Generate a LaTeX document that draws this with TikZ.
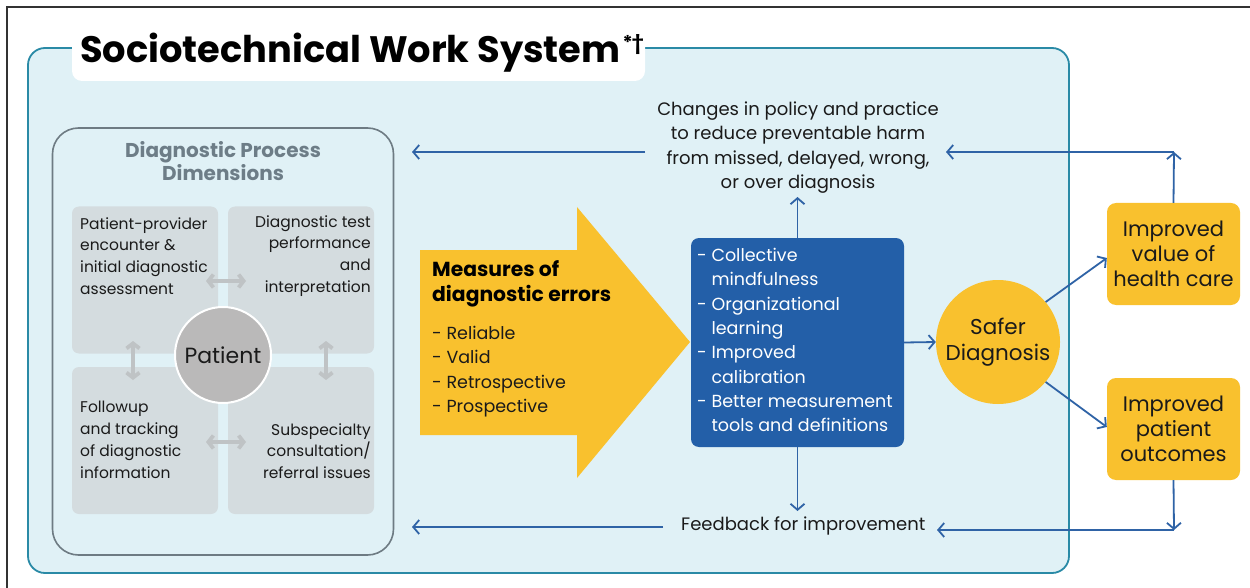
\documentclass[tikz,border=0pt]{standalone}
\usepackage{fontspec}
\setmainfont{Poppins}
\usetikzlibrary{arrows.meta}
\definecolor{mainfill}{HTML}{E0F1F6}
\definecolor{mainline}{HTML}{2A8AA6}
\definecolor{grayline}{HTML}{6E7B83}
\definecolor{panelfill}{HTML}{D4DCDF}
\definecolor{patfill}{HTML}{BAB9B9}
\definecolor{dblarrow}{HTML}{BFC3C5}
\definecolor{yel}{HTML}{F9C12E}
\definecolor{bluebox}{HTML}{235FA8}
\definecolor{bluearrow}{HTML}{2F63A6}
\definecolor{titlegray}{HTML}{6D7D87}
\definecolor{ink}{HTML}{1A1A1A}
\tikzset{
  txt/.style={inner sep=0pt, text=ink, font=\fontsize{17.5}{24.3}\selectfont},
  bigtxt/.style={inner sep=0pt, text=ink, font=\fontsize{18}{24.3}\selectfont},
  paneltxt/.style={inner sep=0pt, text=ink, font=\fontsize{15.5}{21.8}\selectfont},
  panel/.style={fill=panelfill, rounded corners=7pt, minimum width=146pt, minimum height=147pt, inner sep=0pt},
  barrow/.style={draw=bluearrow, line width=1.8pt, -{Straight Barb[length=6pt,width=14pt]}},
  garrow/.style={draw=dblarrow, line width=3.8pt, {Straight Barb[length=5pt,width=13pt]}-{Straight Barb[length=5pt,width=13pt]}},
  yelbox/.style={fill=yel, rounded corners=9pt, minimum width=133pt, minimum height=102pt, inner sep=0pt, align=center, text=ink, font=\fontsize{21}{25}\selectfont},
}
\begin{document}
\begin{tikzpicture}[x=1pt,y=-1pt]
\useasboundingbox (0,0) rectangle (1250,588);
\fill[white] (0,0) rectangle (1250,588);
% outer frame
\draw[line width=1.6pt, black!80] (7,588) -- (7,7) -- (1250,7);
% main box
\node[draw=mainline, fill=mainfill, line width=1.8pt, rounded corners=17pt, minimum width=1041pt, minimum height=525pt, inner sep=0pt] (main) at (548.5,310.5) {};
% title box
\node[fill=white, rounded corners=10pt, minimum width=573pt, minimum height=62pt, inner sep=0pt] (titlebox) at (358.5,50) {};
\node[anchor=base west, inner sep=0pt, text=black, font=\fontsize{36.8}{36.8}\selectfont\bfseries] (title) at (80,63) {Sociotechnical Work System\kern2pt\raisebox{13pt}{\fontsize{19}{19}\selectfont *\kern-1pt†}};
% diagnostic process box
\node[draw=grayline, fill=mainfill, line width=1.6pt, rounded corners=26pt, minimum width=341pt, minimum height=427pt, inner sep=0pt] (dpd) at (223,341.5) {};
\node[align=center, inner sep=0pt, text=titlegray, font=\fontsize{20}{23}\selectfont\bfseries] (dpdtitle) at (223,161) {Diagnostic Process\\Dimensions};
% panels
\node[panel] (tl) at (145,280) {};
\node[panel] (tr) at (301,280) {};
\node[panel] (bl) at (145,440.5) {};
\node[panel] (br) at (301,440.5) {};
\node[paneltxt, anchor=west, align=left] (tltxt) at (80,256) {Patient-provider\\encounter \&\\initial diagnostic\\assessment};
\node[paneltxt, anchor=east, align=right] (trtxt) at (371,256) {Diagnostic test\\performance\\and\\interpretation};
\node[paneltxt, anchor=west, align=left] (bltxt) at (80,440) {Followup\\and tracking\\of diagnostic\\information};
\node[paneltxt, anchor=east, align=right] (brtxt) at (371,451) {Subspecialty\\consultation/\\referral issues};
% double arrows
\coordinate (h1a) at (206,281); \coordinate (h1b) at (246,281);
\coordinate (h2a) at (206,442); \coordinate (h2b) at (246,442);
\coordinate (v1a) at (133,341); \coordinate (v1b) at (133,380);
\coordinate (v2a) at (326,341); \coordinate (v2b) at (326,380);
\draw[garrow] (h1a) -- (h1b);
\draw[garrow] (h2a) -- (h2b);
\draw[garrow] (v1a) -- (v1b);
\draw[garrow] (v2a) -- (v2b);
% patient
\node[circle, fill=patfill, draw=white, line width=2pt, minimum size=96pt, inner sep=0pt, text=ink, font=\fontsize{22}{22}\selectfont] (patient) at (223,355) {Patient};
% yellow arrow
\fill[yel] (420,250) -- (577,250) -- (577,207) -- (690,342) -- (577,478) -- (577,435) -- (420,435) -- cycle;
\node[anchor=west, align=left, inner sep=0pt, text=black, font=\fontsize{20.3}{25.5}\selectfont\bfseries] (measures) at (432,284) {Measures of\\diagnostic errors};
\node[txt, anchor=west, align=left] (mlist) at (432,371.5) {- Reliable\\- Valid\\- Retrospective\\- Prospective};
% blue box
\node[fill=bluebox, rounded corners=8pt, minimum width=213pt, minimum height=209pt, inner sep=0pt] (blue) at (797.5,342.5) {};
\node[txt, text=white, anchor=west, align=left] (bluetxt) at (697,340) {- Collective\\\phantom{- }mindfulness\\- Organizational\\\phantom{- }learning\\- Improved\\\phantom{- }calibration\\- Better measurement\\\phantom{- }tools and definitions};
% changes text
\node[bigtxt, align=center] (changes) at (798,147.5) {Changes in policy and practice\\to reduce preventable harm\\from missed, delayed, wrong,\\or over diagnosis};
\coordinate (chgL) at (645,152);
\coordinate (dpdTop) at (412,152);
\coordinate (chgR) at (946,152);
\coordinate (cornerTop) at (1174,152);
% feedback
\node[bigtxt, anchor=west] (feedback) at (681,526) {Feedback for improvement};
\coordinate (fbL) at (663,527);
\coordinate (dpdBot) at (412,527);
\coordinate (fbR) at (937,530);
\coordinate (cornerBot) at (1174,530);
% safer diagnosis
\node[circle, fill=yel, minimum size=124pt, inner sep=0pt, align=center, text=ink, font=\fontsize{21.5}{26}\selectfont] (safer) at (998,342) {Safer\\Diagnosis};
% outcome boxes
\node[yelbox] (value) at (1173.5,254) {Improved\\value of\\health care};
\node[yelbox] (outcome) at (1173.5,429) {Improved\\patient\\outcomes};
% connectors
\draw[barrow] (blue.north) -- (blue.north |- 0,197);
\draw[barrow] (blue.south) -- (blue.south |- 0,511);
\draw[barrow] (chgL) -- (dpdTop);
\draw[barrow] (fbL) -- (dpdBot);
\draw[barrow] (blue.east) -- (safer.west);
\draw[barrow] (safer.40) -- (value.west |- 0,258);
\draw[barrow] (safer.-40) -- (outcome.west |- 0,427);
\draw[barrow] (value.north) -- (cornerTop);
\draw[barrow] (cornerTop) -- (chgR);
\draw[barrow] (outcome.south) -- (cornerBot);
\draw[barrow] (cornerBot) -- (fbR);
\end{tikzpicture}
\end{document}
